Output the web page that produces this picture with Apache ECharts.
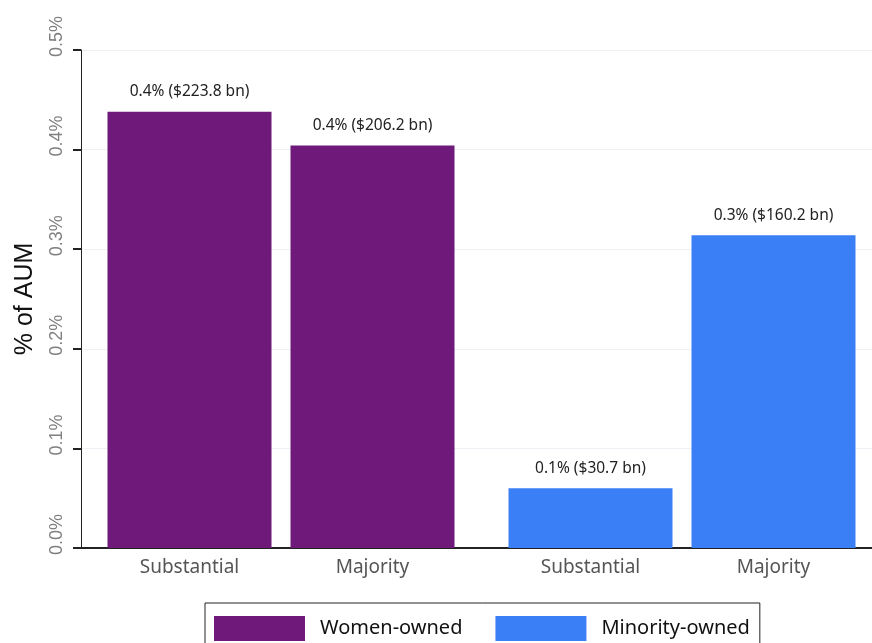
<!DOCTYPE html>
<html>
<head>
<meta charset="utf-8">
<script src="https://cdn.jsdelivr.net/npm/echarts@6/dist/echarts.min.js"></script>
<style>html,body{margin:0;padding:0;background:#fff}#c{width:872px;height:643px}</style>
</head>
<body>
<div id="c"></div>
<script>
var groups = ['Women-owned', 'Minority-owned'];
var categories = ['Substantial', 'Majority'];
var pctWomen = [0.438, 0.404];
var bnWomen = [223.8, 206.2];
var pctMinority = [0.060, 0.314];
var bnMinority = [30.7, 160.2];
var yTicks = [0, 0.1, 0.2, 0.3, 0.4, 0.5];

var purple = '#6f1a7b';
var blue = '#3b7ff6';
var plotTop = 50, plotH = 498;

function labelFor(bn) {
  return {
    show: true, position: 'top', distance: 12,
    fontFamily: 'Noto Sans', fontSize: 15.5, color: '#222',
    formatter: function (p) { return p.value.toFixed(1) + '% ($' + bn[p.dataIndex].toFixed(1) + ' bn)'; }
  };
}
var hiddenY = function (gi) {
  return { gridIndex: gi, type: 'value', min: yTicks[0], max: yTicks[yTicks.length - 1], interval: 0.1, show: false };
};
var catX = function (gi) {
  return {
    gridIndex: gi, type: 'category', data: categories,
    axisLine: { show: false }, axisTick: { show: false },
    axisLabel: { fontFamily: 'Noto Sans', fontSize: 19, color: '#555', margin: 10 }
  };
};

var chart = echarts.init(document.getElementById('c'), null, { renderer: 'canvas' });
chart.setOption({
  animation: false,
  backgroundColor: '#fff',
  grid: [
    { left: 81, right: 0, top: plotTop, height: plotH },
    { left: 98, width: 366, top: plotTop, height: plotH },
    { left: 499, width: 366, top: plotTop, height: plotH }
  ],
  legend: {
    data: groups, left: 205, top: 603, orient: 'horizontal',
    icon: 'rect', itemWidth: 91, itemHeight: 25, itemGap: 33,
    padding: [13, 10, 13, 9], borderColor: '#222', borderWidth: 1,
    textStyle: { fontFamily: 'Noto Sans', fontSize: 20, color: '#111', padding: [0, 0, 0, 10] }
  },
  xAxis: [
    {
      gridIndex: 0, type: 'category', data: groups,
      axisLine: { show: true, lineStyle: { color: '#222', width: 2 } },
      axisTick: { show: false }, axisLabel: { show: false }, splitLine: { show: false }
    },
    catX(1), catX(2)
  ],
  yAxis: [
    {
      gridIndex: 0, type: 'value', min: yTicks[0], max: yTicks[yTicks.length - 1], interval: 0.1,
      name: '% of AUM', nameLocation: 'middle', nameRotate: 90, nameGap: 43,
      nameTextStyle: { fontFamily: 'Liberation Sans', fontSize: 25, color: '#111' },
      axisLine: { show: true, lineStyle: { color: '#222', width: 1 } },
      axisTick: { show: true, inside: false, length: 8, lineStyle: { color: '#222', width: 2 } },
      axisLabel: {
        rotate: 90, margin: 15, fontFamily: 'Liberation Sans', fontSize: 18, color: '#808080',
        padding: [0, 0, 0, 27],
        formatter: function (v) { return v.toFixed(1) + '%'; }
      },
      splitLine: { show: true, lineStyle: { color: '#eef1f6', width: 1 } }
    },
    hiddenY(1), hiddenY(2)
  ],
  series: [
    {
      name: groups[0], type: 'bar', xAxisIndex: 1, yAxisIndex: 1, barWidth: 164,
      data: pctWomen, itemStyle: { color: purple }, label: labelFor(bnWomen)
    },
    {
      name: groups[1], type: 'bar', xAxisIndex: 2, yAxisIndex: 2, barWidth: 164,
      data: pctMinority, itemStyle: { color: blue }, label: labelFor(bnMinority)
    }
  ]
});
</script>
</body>
</html>
